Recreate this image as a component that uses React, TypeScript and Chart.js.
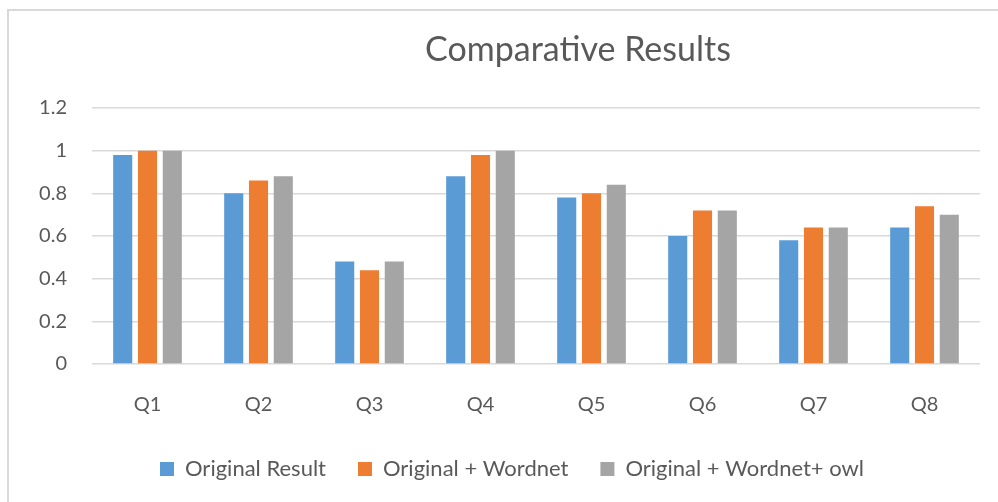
import React, { useEffect, useRef } from "react";
import { Chart, registerables } from "chart.js";

Chart.register(...registerables);

const categories = ["Q1", "Q2", "Q3", "Q4", "Q5", "Q6", "Q7", "Q8"];
const originalResult = [0.98, 0.8, 0.48, 0.88, 0.78, 0.6, 0.58, 0.64];
const originalWordnet = [1.0, 0.86, 0.44, 0.98, 0.8, 0.72, 0.64, 0.74];
const originalWordnetOwl = [1.0, 0.88, 0.48, 1.0, 0.84, 0.72, 0.64, 0.7];
const seriesNames = ["Original Result", "Original + Wordnet", "Original + Wordnet+ owl"];
const seriesColors = ["#5B9BD5", "#ED7D31", "#A5A5A5"];
const chartTitle = "Comparative Results";

const FONT = "Lato, 'Open Sans', sans-serif";
const TEXT = "#595959";

const shiftLegend = {
  id: "shiftLegend",
  afterLayout(chart: any) {
    const l = chart.legend;
    if (l) {
      l.left += 7;
      l.right += 7;
    }
  },
};

export default function App() {
  const ref = useRef<HTMLCanvasElement | null>(null);

  useEffect(() => {
    if (!ref.current) return;
    const values = [originalResult, originalWordnet, originalWordnetOwl];
    const chart = new Chart(ref.current, {
      type: "bar",
      data: {
        labels: categories,
        datasets: values.map((v, i) => ({
          label: seriesNames[i],
          data: v,
          backgroundColor: seriesColors[i],
          borderWidth: 0,
          categoryPercentage: 0.67,
          barPercentage: 0.77,
        })),
      },
      plugins: [shiftLegend],
      options: {
        responsive: false,
        animation: false,
        layout: { padding: { left: 30, right: 18, top: 108, bottom: 12 } },
        plugins: {
          title: { display: false },
          tooltip: { enabled: false },
          legend: {
            position: "bottom",
            labels: {
              color: TEXT,
              font: { family: FONT, size: 22 },
              boxWidth: 14,
              boxHeight: 14,
              padding: 32,
            },
          },
        },
        scales: {
          x: {
            afterFit: (scale: any) => {
              scale.height = 62;
            },
            grid: { display: false },
            border: { display: false },
            ticks: { color: TEXT, font: { family: FONT, size: 20 }, padding: 21 },
          },
          y: {
            min: 0,
            max: 1.2,
            afterFit: (scale: any) => {
              scale.width = 62;
            },
            border: { display: false },
            grid: { color: "#D9D9D9", lineWidth: 1.5, drawTicks: false },
            ticks: {
              stepSize: 0.2,
              color: TEXT,
              font: { family: FONT, size: 20 },
              padding: 25,
              callback: (v: any) => String(Number(Number(v).toFixed(1))),
            },
          },
        },
      },
    });
    return () => chart.destroy();
  }, []);

  return (
    <div
      style={{
        position: "fixed",
        left: 0,
        top: 0,
        width: 998,
        height: 502,
        background: "#fff",
        overflow: "hidden",
      }}
    >
      <div
        style={{
          position: "absolute",
          left: 7,
          top: 9,
          width: 1200,
          height: 600,
          border: "2px solid #D9D9D9",
        }}
      />
      <canvas
        ref={ref}
        width={998}
        height={502}
        style={{ position: "absolute", left: 0, top: 0, width: 998, height: 502 }}
      />
      <div
        style={{
          position: "absolute",
          left: 278,
          width: 600,
          top: 28,
          textAlign: "center",
          fontFamily: FONT,
          fontSize: 34,
          color: TEXT,
          lineHeight: "40px",
        }}
      >
        {chartTitle}
      </div>
    </div>
  );
}
